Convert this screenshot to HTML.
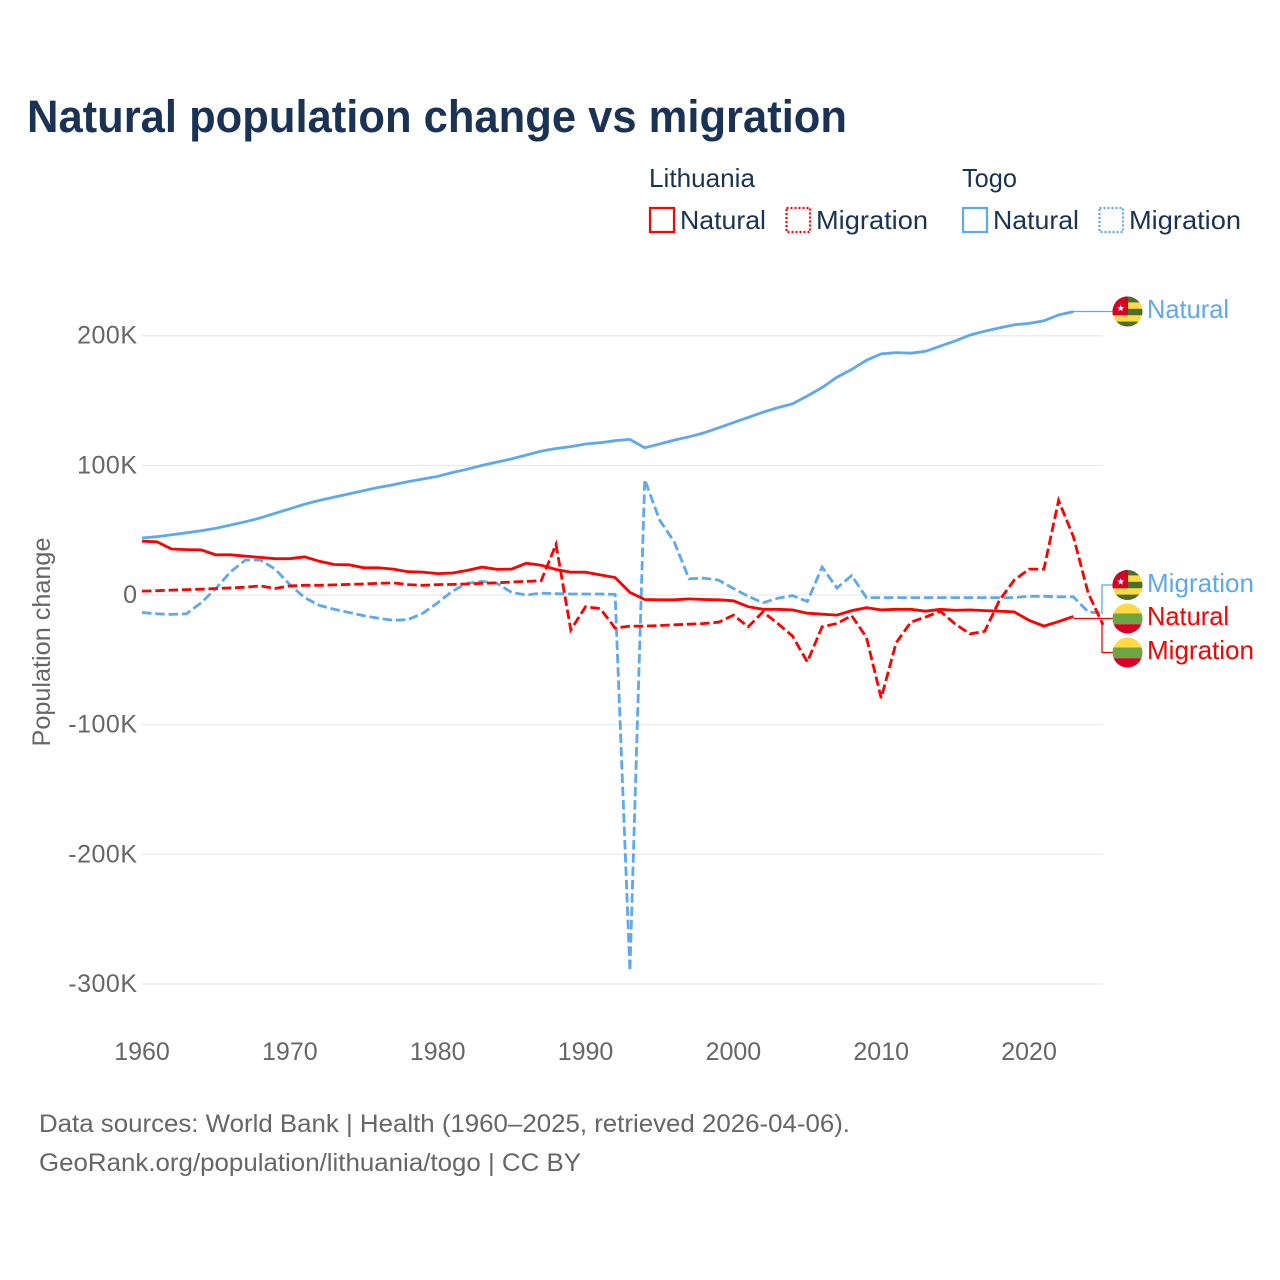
<!DOCTYPE html>
<html lang="en">
<head>
<meta charset="utf-8">
<title>Natural population change vs migration</title>
<style>
html,body{margin:0;padding:0;background:#fff;}
svg{display:block;font-family:"Liberation Sans",sans-serif;}
</style>
</head>
<body>
<svg id="chart" width="1280" height="1280" viewBox="0 0 1280 1280" xmlns="http://www.w3.org/2000/svg">
  <defs>
    <clipPath id="c1"><circle cx="1127.5" cy="311.5" r="15"/></clipPath>
    <clipPath id="c2"><circle cx="1127.5" cy="585" r="15"/></clipPath>
    <clipPath id="c3"><circle cx="1127.5" cy="618.5" r="15"/></clipPath>
    <clipPath id="c4"><circle cx="1127.5" cy="652.5" r="15"/></clipPath>
  </defs>
  <rect width="1280" height="1280" fill="#fff"/>
  <text x="27" y="132" font-size="45" font-weight="700" fill="#1a3354" textLength="820" lengthAdjust="spacingAndGlyphs">Natural population change vs migration</text>

  <g fill="#1a3354" font-size="26">
    <text x="649" y="187" textLength="106" lengthAdjust="spacingAndGlyphs">Lithuania</text>
    <text x="962" y="187" textLength="55" lengthAdjust="spacingAndGlyphs">Togo</text>
    <rect x="650" y="208" width="24" height="24" fill="none" stroke="#ff0000" stroke-width="2.2"/>
    <text x="680" y="229" textLength="86" lengthAdjust="spacingAndGlyphs">Natural</text>
    <rect x="786.5" y="208" width="23.5" height="24" fill="none" stroke="#ff0000" stroke-width="2.2" stroke-dasharray="2 2"/>
    <text x="816" y="229" textLength="112" lengthAdjust="spacingAndGlyphs">Migration</text>
    <rect x="963" y="208" width="24" height="24" fill="none" stroke="#5ea8ee" stroke-width="2.2"/>
    <text x="993" y="229" textLength="86" lengthAdjust="spacingAndGlyphs">Natural</text>
    <rect x="1099.5" y="208" width="23.5" height="24" fill="none" stroke="#5ea8ee" stroke-width="2.2" stroke-dasharray="2 2"/>
    <text x="1129" y="229" textLength="112" lengthAdjust="spacingAndGlyphs">Migration</text>
  </g>

  <g id="grid"></g>
  <g id="yticks"></g>
  <g id="xticks"></g>
  <text transform="translate(50,642) rotate(-90)" text-anchor="middle" font-size="25" fill="#666" textLength="209" lengthAdjust="spacingAndGlyphs">Population change</text>
  <g id="leaders"></g>
  <g id="series"></g>

  <g clip-path="url(#c1)">
    <rect x="1112" y="296" width="31" height="32" fill="#ffda44"/>
    <rect x="1112" y="296" width="31" height="6.4" fill="#496e2d"/>
    <rect x="1112" y="308.8" width="31" height="6.4" fill="#496e2d"/>
    <rect x="1112" y="321.6" width="31" height="6.4" fill="#496e2d"/>
    <rect x="1112" y="296" width="16" height="19.2" fill="#d80027"/>
    <polygon transform="translate(1120.7,308.3)" fill="#fff" points="0,-3.8 0.88,-1.21 3.61,-1.17 1.43,0.46 2.23,3.07 0,1.5 -2.23,3.07 -1.43,0.46 -3.61,-1.17 -0.88,-1.21"/>
  </g>
  <g clip-path="url(#c2)">
    <rect x="1112" y="569" width="31" height="32" fill="#ffda44"/>
    <rect x="1112" y="569" width="31" height="6.4" fill="#496e2d"/>
    <rect x="1112" y="581.8" width="31" height="6.4" fill="#496e2d"/>
    <rect x="1112" y="594.6" width="31" height="6.4" fill="#496e2d"/>
    <rect x="1112" y="569" width="16" height="19.2" fill="#d80027"/>
    <polygon transform="translate(1120.7,581.7)" fill="#fff" points="0,-3.8 0.88,-1.21 3.61,-1.17 1.43,0.46 2.23,3.07 0,1.5 -2.23,3.07 -1.43,0.46 -3.61,-1.17 -0.88,-1.21"/>
  </g>
  <g clip-path="url(#c3)">
    <rect x="1112" y="603" width="31" height="10.5" fill="#ffda44"/>
    <rect x="1112" y="613.5" width="31" height="10.7" fill="#6da544"/>
    <rect x="1112" y="624.2" width="31" height="10" fill="#d80027"/>
  </g>
  <g clip-path="url(#c4)">
    <rect x="1112" y="637" width="31" height="10.5" fill="#ffda44"/>
    <rect x="1112" y="647.5" width="31" height="10.7" fill="#6da544"/>
    <rect x="1112" y="658.2" width="31" height="10" fill="#d80027"/>
  </g>

  <g font-size="26">
    <text x="1147" y="318" fill="#5ea8ee" textLength="82" lengthAdjust="spacingAndGlyphs">Natural</text>
    <text x="1147" y="592" fill="#5ea8ee" textLength="107" lengthAdjust="spacingAndGlyphs">Migration</text>
    <text x="1147" y="625" fill="#ff0000" textLength="82" lengthAdjust="spacingAndGlyphs">Natural</text>
    <text x="1147" y="659" fill="#ff0000" textLength="107" lengthAdjust="spacingAndGlyphs">Migration</text>
  </g>

  <g font-size="25" fill="#666">
    <text x="39" y="1132" textLength="811" lengthAdjust="spacingAndGlyphs">Data sources: World Bank | Health (1960–2025, retrieved 2026-04-06).</text>
    <text x="39" y="1171" textLength="542" lengthAdjust="spacingAndGlyphs">GeoRank.org/population/lithuania/togo | CC BY</text>
  </g>
</svg>
<script>
const years = [1960,1961,1962,1963,1964,1965,1966,1967,1968,1969,1970,1971,1972,1973,1974,1975,1976,1977,1978,1979,1980,1981,1982,1983,1984,1985,1986,1987,1988,1989,1990,1991,1992,1993,1994,1995,1996,1997,1998,1999,2000,2001,2002,2003,2004,2005,2006,2007,2008,2009,2010,2011,2012,2013,2014,2015,2016,2017,2018,2019,2020,2021,2022,2023,2024,2025];
const togoNatural = [44,45,46.5,48,49.5,51.5,54,56.5,59.5,63,66.5,70,73,75.5,78,80.5,83,85,87.5,89.5,91.5,94.5,97,100,102.5,105,108,111,113,114.5,116.5,117.5,119,120,113.5,116.5,119.5,122,125,129,133,137,141,144.5,147.5,153.5,160,168,174,181,186,187,186.5,188,192,196,200.5,203.5,206,208.5,209.5,211.5,216,218.6,null,null];
const togoMigration = [-13.5,-14.5,-15,-14.5,-6,5,18,27,27,20,8,-2,-8,-11,-13.5,-16,-18,-19.5,-19,-14,-6,3,9,10.5,9,2,0,1.5,1,0.8,0.8,0.8,0.5,-290,89,58,41,12.5,13,11.5,5,-1,-6,-2.5,-0.5,-5,21.5,5.5,15,-2,-2,-2,-2,-2,-2,-2,-2,-2,-2,-2,-1,-1,-1.5,-1.5,-13,-14];
const lithuaniaNatural = [41.5,41,35.5,35,34.8,31,31,30,29,28,28,29.5,26,23.5,23.3,21,21,20,18,17.7,16.5,17,19,21.5,19.8,20,24.5,23,19.7,17.6,17.6,15.5,13.5,2,-3.5,-3.7,-3.7,-3,-3.5,-3.7,-4.5,-9,-11,-11,-11.5,-14,-14.8,-15.5,-12,-9.8,-11.5,-11,-11,-12.5,-11,-11.8,-11.5,-12,-12.5,-13,-19.5,-24,-20.5,-16.5,null,null];
const lithuaniaMigration = [3,3.3,3.8,4.2,4.5,5,5.5,6,7,5,7,7.5,7.5,7.8,8.2,8.5,9,9.3,8,7.5,8,8.2,8.5,9,9.3,10,10.5,11,39,-27,-9,-10.5,-25.5,-24,-24,-23.5,-23,-22.5,-22,-21,-15.5,-24.5,-13,-22,-31.6,-51.6,-24.5,-22,-16,-32.6,-79.5,-37,-21,-17,-12.6,-22.4,-30,-28,-4,11.6,20,20,73,45,1.5,-23];
const yTickValues = [200,100,0,-100,-200,-300];
const yTickLabels = ["200K","100K","0","-100K","-200K","-300K"];
const xTickValues = [1960,1970,1980,1990,2000,2010,2020];
const xTickLabels = ["1960","1970","1980","1990","2000","2010","2020"];

const NS = "http://www.w3.org/2000/svg";
function xScale(year){ return 142 + (year - 1960) * (1103 - 142) / 65; }
function yScale(value){ return 595 - value * 1.2965; }
function make(tag, parent){
  const el = document.createElementNS(NS, tag);
  parent.appendChild(el);
  return el;
}

const gridLayer = document.getElementById("grid");
const yLayer = document.getElementById("yticks");
const xLayer = document.getElementById("xticks");
const seriesLayer = document.getElementById("series");
const leaderLayer = document.getElementById("leaders");

yTickValues.forEach(function(v, i){
  const line = make("line", gridLayer);
  
  
  line.setAttribute("x1", 142);
  line.setAttribute("x2", 1103);
  line.setAttribute("y1", yScale(v));
  line.setAttribute("y2", yScale(v));
  line.setAttribute("stroke", "#e6e6e6");
  line.setAttribute("stroke-width", "1");
  const label = make("text", yLayer);
  
  
  label.setAttribute("x", 137.5);
  label.setAttribute("y", yScale(v) + 8);
  label.setAttribute("text-anchor", "end");
  label.setAttribute("font-size", "25");
  label.setAttribute("letter-spacing", "0.5");
  label.setAttribute("fill", "#666");
  label.textContent = yTickLabels[i];
});

xTickValues.forEach(function(v, i){
  const label = make("text", xLayer);
  
  
  label.setAttribute("x", xScale(v));
  label.setAttribute("y", 1060);
  label.setAttribute("text-anchor", "middle");
  label.setAttribute("font-size", "25");
  label.setAttribute("fill", "#666");
  label.textContent = xTickLabels[i];
});

function lastPoint(values){
  let idx = values.length - 1;
  while (values[idx] === null) idx--;
  return [xScale(years[idx]), yScale(values[idx])];
}

function drawSeries(values, color, dashed, seriesName){
  const pts = [];
  values.forEach(function(v, i){
    if (v !== null) pts.push(xScale(years[i]).toFixed(1) + "," + yScale(v).toFixed(1));
  });
  const line = make("polyline", seriesLayer);
  
  
  line.setAttribute("points", pts.join(" "));
  line.setAttribute("fill", "none");
  line.setAttribute("stroke", color);
  line.setAttribute("stroke-width", "2.8");
  line.setAttribute("stroke-linejoin", "miter");
  if (dashed) line.setAttribute("stroke-dasharray", "9.5 3.8");
}

function drawLeader(values, labelY, color, leaderName){
  const p = lastPoint(values);
  const path = make("path", leaderLayer);
  
  
  const elbow = Math.abs(p[1] - labelY) < 3 ? "" : " L1102," + p[1].toFixed(1) + " L1102," + labelY;
  path.setAttribute("d", "M" + p[0].toFixed(1) + "," + (elbow ? p[1].toFixed(1) : labelY) + elbow + " L1113," + labelY);
  path.setAttribute("fill", "none");
  path.setAttribute("stroke", color);
  path.setAttribute("stroke-width", "1.3");
}

drawLeader(togoNatural, 311.5, "#5ea8ee", "leader-togo-natural");
drawLeader(togoMigration, 585, "#5ea8ee", "leader-togo-migration");
drawLeader(lithuaniaNatural, 618.5, "#ff0000", "leader-lithuania-natural");
drawLeader(lithuaniaMigration, 652.5, "#ff0000", "leader-lithuania-migration");

drawSeries(togoNatural, "#5ea8ee", false, "line-togo-natural");
drawSeries(togoMigration, "#5ea8ee", true, "line-togo-migration");
drawSeries(lithuaniaNatural, "#ff0000", false, "line-lithuania-natural");
drawSeries(lithuaniaMigration, "#ff0000", true, "line-lithuania-migration");
</script>
</body>
</html>
